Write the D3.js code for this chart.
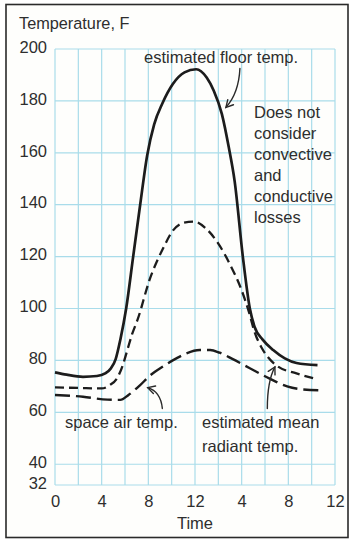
<!DOCTYPE html>
<html>
<head>
<meta charset="utf-8">
<script src="https://cdn.jsdelivr.net/npm/d3@7"></script>
<style>
  html, body { margin: 0; padding: 0; background: #fff; }
  svg { display: block; }
  text { font-family: "Liberation Sans", Arial, Helvetica, sans-serif; fill: #2e2e2e; }
</style>
</head>
<body>
<svg id="chart" width="350" height="540"></svg>
<script>
// Time axis (hours from midnight) and its tick labels
const xTickValues = [0, 4, 8, 12, 16, 20, 24];
const xTickLabels = ["0", "4", "8", "12", "4", "8", "12"];
const xGridValues = d3.range(0, 25, 2);

// Temperature axis (°F)
const yTickValues = [32, 40, 60, 80, 100, 120, 140, 160, 180, 200];

// Estimated floor temperature: [hour, °F]
const floorTemp = [
  [0, 75.4], [1, 74.5], [2.4, 73.7], [3.6, 74], [4.3, 75], [4.8, 77],
  [5.2, 80.5], [5.6, 88], [6.1, 100], [6.7, 120], [7.3, 140], [7.9, 159],
  [8.5, 171], [9.2, 179], [10.1, 186.5], [11.1, 191], [12.1, 192.2],
  [13, 189], [13.6, 184], [14.3, 175], [14.9, 162], [15.4, 149],
  [16.1, 120], [16.7, 100], [17.1, 93], [17.8, 88], [18.7, 84],
  [19.7, 80.8], [20.7, 79], [22.5, 78.2]
];

// Estimated mean radiant temperature: [hour, °F]
const meanRadiantTemp = [
  [0, 69.6], [2, 69.4], [4, 69.2], [4.7, 70.5], [5.3, 73], [5.8, 78],
  [6.2, 84], [6.6, 90], [7.1, 96], [8.1, 111], [9.3, 123.5], [10.1, 130],
  [11, 133], [11.9, 133.5], [12.9, 131], [14, 125], [15, 117], [16, 107],
  [16.6, 99], [17.1, 91], [17.7, 85], [18.3, 81], [19, 78], [20.7, 75],
  [22.3, 73]
];

// Space air temperature: [hour, °F]
const spaceAirTemp = [
  [0, 66.7], [2.4, 66], [4.5, 64.9], [5.6, 64.8], [6.3, 66.7], [7.3, 70.5],
  [8.1, 74], [9.3, 77.8], [10.4, 80.8], [11.2, 82.6], [12.4, 84], [13.3, 84],
  [14.1, 83], [15.2, 80.6], [16.7, 77], [18.4, 73], [19.9, 70],
  [21.3, 68.8], [22.9, 68.5]
];

const svg = d3.select("#chart");

// Outer frame
svg.append("rect")
  .attr("x", 6).attr("y", 4.5)
  .attr("width", 342).attr("height", 533)
  .attr("fill", "#fefefc")
  .attr("stroke", "#2a2a2a")
  .attr("stroke-width", 1.6);

const x = d3.scaleLinear().domain([0, 24]).range([55, 335]);
const y = d3.scaleLinear().domain([32, 200]).range([485, 49]);

// Grid
const gridColor = "#a9dcea";
const grid = svg.append("g").attr("stroke", gridColor).attr("stroke-width", 1.2);
grid.selectAll("line.v").data(xGridValues).join("line")
  .attr("class", "v")
  .attr("x1", d => x(d)).attr("x2", d => x(d))
  .attr("y1", y(200)).attr("y2", y(32));
grid.selectAll("line.h").data(yTickValues).join("line")
  .attr("class", "h")
  .attr("x1", x(0)).attr("x2", x(24))
  .attr("y1", d => y(d)).attr("y2", d => y(d));

// Axes (labels only, no domain or tick marks)
const yAxis = d3.axisLeft(y).tickValues(yTickValues).tickSize(0).tickPadding(8);
const gy = svg.append("g").attr("transform", `translate(${x(0)},-2)`).call(yAxis);
gy.select(".domain").remove();
gy.selectAll("text").style("font-size", "16.5px").attr("fill", "#2e2e2e");

const xAxis = d3.axisBottom(x).tickValues(xTickValues)
  .tickFormat((d, i) => xTickLabels[i]).tickSize(0).tickPadding(10);
const gx = svg.append("g").attr("transform", `translate(0,${y(32)})`).call(xAxis);
gx.select(".domain").remove();
gx.selectAll("text").style("font-size", "16.5px").attr("fill", "#2e2e2e");

// Axis titles
svg.append("text").attr("x", 19).attr("y", 29)
  .style("font-size", "16.3px").text("Temperature, F");
svg.append("text").attr("x", x(12)).attr("y", 529)
  .attr("text-anchor", "middle").style("font-size", "16.5px").text("Time");

// Curves
const line = d3.line()
  .x(d => x(d[0])).y(d => y(d[1]))
  .curve(d3.curveMonotoneX);

const curves = svg.append("g").attr("fill", "none").attr("stroke", "#1c1c1c")
  .attr("stroke-linecap", "butt");
curves.append("path").datum(floorTemp)
  .attr("d", line).attr("stroke-width", 2.7);
curves.append("path").datum(meanRadiantTemp)
  .attr("d", line).attr("stroke-width", 2.3).attr("stroke-dasharray", "9,5");
curves.append("path").datum(spaceAirTemp)
  .attr("d", line).attr("stroke-width", 2.4).attr("stroke-dasharray", "15,6");

// Curved pointer arrows, anchored in data units: start, control, tip
const arrows = [
  { from: [15.85, 192.5], ctrl: [15.75, 183], to: [14.65, 177.5] },
  { from: [9.2, 61.5], ctrl: [9.05, 68], to: [7.95, 69.5] },
  { from: [18.2, 61.5], ctrl: [18.2, 72], to: [18.85, 77.5] }
];
const ag = svg.append("g").attr("fill", "none").attr("stroke", "#2a2a2a")
  .attr("stroke-width", 1.4).attr("stroke-linecap", "round");
arrows.forEach(a => {
  const p0 = [x(a.from[0]), y(a.from[1])];
  const pc = [x(a.ctrl[0]), y(a.ctrl[1])];
  const p1 = [x(a.to[0]), y(a.to[1])];
  ag.append("path").attr("d", `M${p0[0]},${p0[1]} Q${pc[0]},${pc[1]} ${p1[0]},${p1[1]}`);
  const ang = Math.atan2(p1[1] - pc[1], p1[0] - pc[0]);
  const len = 8, spread = 0.5;
  const h1 = [p1[0] - len * Math.cos(ang - spread), p1[1] - len * Math.sin(ang - spread)];
  const h2 = [p1[0] - len * Math.cos(ang + spread), p1[1] - len * Math.sin(ang + spread)];
  ag.append("path").attr("d", `M${h1[0]},${h1[1]} L${p1[0]},${p1[1]} L${h2[0]},${h2[1]}`);
});

// Annotations
const note = svg.append("g").style("font-size", "16.5px");
note.append("text").attr("x", 144).attr("y", 63).text("estimated floor temp.");
const caveat = ["Does not", "consider", "convective", "and", "conductive", "losses"];
note.selectAll("text.caveat").data(caveat).join("text")
  .attr("class", "caveat")
  .attr("x", 254).attr("y", (d, i) => 118 + i * 21)
  .text(d => d);
note.append("text").attr("x", 65).attr("y", 428).text("space air temp.");
note.append("text").attr("x", 202).attr("y", 428).text("estimated mean");
note.append("text").attr("x", 202).attr("y", 452).text("radiant temp.");
</script>
</body>
</html>
